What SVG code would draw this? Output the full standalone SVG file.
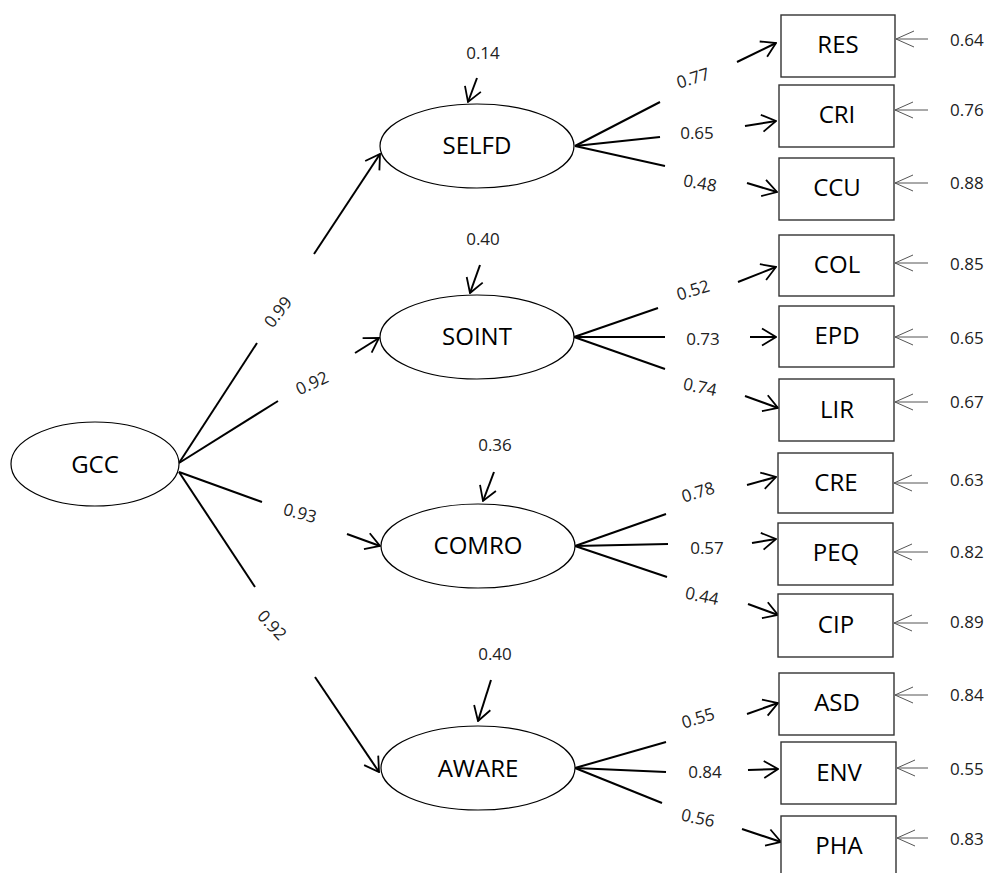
<svg xmlns="http://www.w3.org/2000/svg" width="990" height="873" viewBox="0 0 990 873">
<defs>
<style>
.lat{fill:#fff;stroke:#000;stroke-width:1.2}
.box{fill:#fff;stroke:#333;stroke-width:1.4}
.nt{font-family:"Open Sans","DejaVu Sans",sans-serif;font-size:24px;fill:#000;text-anchor:middle}
.num{font-family:"Open Sans","DejaVu Sans",sans-serif;font-size:17px;fill:#222;text-anchor:middle}
.err{font-family:"Open Sans","DejaVu Sans",sans-serif;font-size:17px;fill:#222;text-anchor:start}
.c{stroke:#000;stroke-width:2;fill:none}
.ca{stroke:#000;stroke-width:2;fill:none;marker-end:url(#ah)}
.g{stroke:#555;stroke-width:1;fill:none;marker-end:url(#gh)}
</style>
<marker id="ah" viewBox="0 0 16 20" refX="15" refY="10" markerWidth="16" markerHeight="20" markerUnits="userSpaceOnUse" orient="auto"><path d="M1,1.5 L15,10 L1,18.5" fill="none" stroke="#000" stroke-width="1.8"/></marker>
<marker id="gh" viewBox="0 0 20 18" refX="19" refY="9" markerWidth="20" markerHeight="18" markerUnits="userSpaceOnUse" orient="auto"><path d="M1,1 L19,9 L1,17" fill="none" stroke="#555" stroke-width="1"/></marker>
</defs>
<rect width="990" height="873" fill="#fff"/>

<g id="connectors">
<line class="c" x1="179" y1="463" x2="257" y2="343"/>
<line class="ca" x1="314" y1="254" x2="380" y2="154"/>
<line class="c" x1="179" y1="463" x2="278" y2="401"/>
<line class="ca" x1="355" y1="353" x2="379" y2="338"/>
<line class="c" x1="179" y1="472" x2="262" y2="502"/>
<line class="ca" x1="347" y1="534" x2="380" y2="546"/>
<line class="c" x1="179" y1="472" x2="255" y2="587"/>
<line class="ca" x1="315" y1="677" x2="379" y2="772"/>

<line class="ca" x1="477" y1="78" x2="468" y2="102"/>
<line class="ca" x1="480" y1="265" x2="470" y2="293"/>
<line class="ca" x1="494" y1="472" x2="483" y2="501"/>
<line class="ca" x1="491" y1="680" x2="478" y2="721"/>

<line class="c" x1="575" y1="146" x2="660" y2="102"/>
<line class="c" x1="575" y1="146" x2="660" y2="137"/>
<line class="c" x1="575" y1="146" x2="665" y2="166"/>
<line class="ca" x1="737" y1="62" x2="776" y2="43"/>
<line class="ca" x1="745" y1="126" x2="776" y2="121"/>
<line class="ca" x1="747" y1="183" x2="777" y2="192"/>

<line class="c" x1="574" y1="337" x2="658" y2="308"/>
<line class="c" x1="574" y1="337" x2="665" y2="337"/>
<line class="c" x1="574" y1="337" x2="665" y2="369"/>
<line class="ca" x1="738" y1="282" x2="776" y2="267"/>
<line class="ca" x1="750" y1="337" x2="776" y2="337"/>
<line class="ca" x1="745" y1="396" x2="778" y2="408"/>

<line class="c" x1="575" y1="546" x2="666" y2="514"/>
<line class="c" x1="575" y1="546" x2="668" y2="544"/>
<line class="c" x1="575" y1="546" x2="667" y2="577"/>
<line class="ca" x1="747" y1="485" x2="776" y2="477"/>
<line class="ca" x1="752" y1="543" x2="776" y2="539"/>
<line class="ca" x1="748" y1="604" x2="778" y2="615"/>

<line class="c" x1="575" y1="768" x2="666" y2="742"/>
<line class="c" x1="575" y1="768" x2="666" y2="772"/>
<line class="c" x1="575" y1="768" x2="662" y2="803"/>
<line class="ca" x1="747" y1="714" x2="778" y2="703"/>
<line class="ca" x1="748" y1="770" x2="778" y2="769"/>
<line class="ca" x1="742" y1="829" x2="781" y2="842"/>

<line class="g" x1="928" y1="39" x2="896" y2="39"/>
<line class="g" x1="928" y1="110" x2="895" y2="110"/>
<line class="g" x1="928" y1="183" x2="895" y2="183"/>
<line class="g" x1="928" y1="263" x2="895" y2="263"/>
<line class="g" x1="928" y1="337" x2="895" y2="337"/>
<line class="g" x1="928" y1="402" x2="895" y2="402"/>
<line class="g" x1="928" y1="483" x2="894" y2="483"/>
<line class="g" x1="928" y1="552" x2="894" y2="552"/>
<line class="g" x1="928" y1="623" x2="894" y2="623"/>
<line class="g" x1="928" y1="695" x2="895" y2="695"/>
<line class="g" x1="928" y1="768" x2="897" y2="768"/>
<line class="g" x1="928" y1="838" x2="897" y2="838"/>
</g>

<g id="path-labels">
<text class="num" transform="translate(278,312) rotate(-52)" y="6">0.99</text>
<text class="num" transform="translate(312,383) rotate(-25)" y="6">0.92</text>
<text class="num" transform="translate(300,513) rotate(15)" y="6">0.93</text>
<text class="num" transform="translate(272,625) rotate(47)" y="6">0.92</text>
<text class="num" x="483" y="58.5">0.14</text>
<text class="num" x="483" y="244.5">0.40</text>
<text class="num" x="495" y="451">0.36</text>
<text class="num" x="495" y="660">0.40</text>
<text class="num" transform="translate(693,78) rotate(-17)" y="6">0.77</text>
<text class="num" x="697" y="139">0.65</text>
<text class="num" transform="translate(700,183) rotate(10)" y="6">0.48</text>
<text class="num" transform="translate(693,290) rotate(-17)" y="6">0.52</text>
<text class="num" x="703" y="345">0.73</text>
<text class="num" transform="translate(700,387) rotate(12)" y="6">0.74</text>
<text class="num" transform="translate(698,492) rotate(-17)" y="6">0.78</text>
<text class="num" x="707" y="554">0.57</text>
<text class="num" transform="translate(702,596) rotate(12)" y="6">0.44</text>
<text class="num" transform="translate(698,718) rotate(-17)" y="6">0.55</text>
<text class="num" x="705" y="778">0.84</text>
<text class="num" transform="translate(698,818) rotate(12)" y="6">0.56</text>
<text class="err" x="950" y="45.5">0.64</text>
<text class="err" x="950" y="116">0.76</text>
<text class="err" x="950" y="188.5">0.88</text>
<text class="err" x="950" y="270">0.85</text>
<text class="err" x="950" y="343.5">0.65</text>
<text class="err" x="950" y="408">0.67</text>
<text class="err" x="950" y="485.5">0.63</text>
<text class="err" x="950" y="558">0.82</text>
<text class="err" x="950" y="628">0.89</text>
<text class="err" x="950" y="700.5">0.84</text>
<text class="err" x="950" y="774.5">0.55</text>
<text class="err" x="950" y="844.5">0.83</text>
</g>

<g id="GCC"><ellipse class="lat" cx="95" cy="464" rx="84" ry="42"/><text class="nt" x="95" y="473">GCC</text></g>
<g id="SELFD"><ellipse class="lat" cx="477" cy="146" rx="97" ry="42"/><text class="nt" x="477" y="154">SELFD</text></g>
<g id="SOINT"><ellipse class="lat" cx="477" cy="337" rx="97" ry="42"/><text class="nt" x="477" y="345">SOINT</text></g>
<g id="COMRO"><ellipse class="lat" cx="478" cy="546" rx="97" ry="42"/><text class="nt" x="478" y="554">COMRO</text></g>
<g id="AWARE"><ellipse class="lat" cx="478" cy="768" rx="97" ry="42"/><text class="nt" x="478" y="777">AWARE</text></g>

<g id="RES"><rect class="box" x="781" y="15" width="114" height="62"/><text class="nt" x="838" y="53">RES</text></g>
<g id="CRI"><rect class="box" x="779" y="85" width="115" height="62"/><text class="nt" x="837" y="122.5">CRI</text></g>
<g id="CCU"><rect class="box" x="779" y="158" width="115" height="62"/><text class="nt" x="837" y="196">CCU</text></g>
<g id="COL"><rect class="box" x="779" y="235" width="115" height="61"/><text class="nt" x="837" y="272.5">COL</text></g>
<g id="EPD"><rect class="box" x="779" y="306" width="115" height="61"/><text class="nt" x="837" y="344">EPD</text></g>
<g id="LIR"><rect class="box" x="779" y="379" width="115" height="62"/><text class="nt" x="837" y="418">LIR</text></g>
<g id="CRE"><rect class="box" x="778" y="453" width="115" height="60"/><text class="nt" x="836" y="490.5">CRE</text></g>
<g id="PEQ"><rect class="box" x="778" y="523" width="115" height="62"/><text class="nt" x="836" y="561">PEQ</text></g>
<g id="CIP"><rect class="box" x="778" y="594" width="115" height="63"/><text class="nt" x="836" y="633">CIP</text></g>
<g id="ASD"><rect class="box" x="779" y="673" width="115" height="62"/><text class="nt" x="837" y="711">ASD</text></g>
<g id="ENV"><rect class="box" x="781" y="742" width="115" height="62"/><text class="nt" x="839" y="781">ENV</text></g>
<g id="PHA"><rect class="box" x="781" y="816" width="115" height="62"/><text class="nt" x="839" y="854">PHA</text></g>
</svg>
